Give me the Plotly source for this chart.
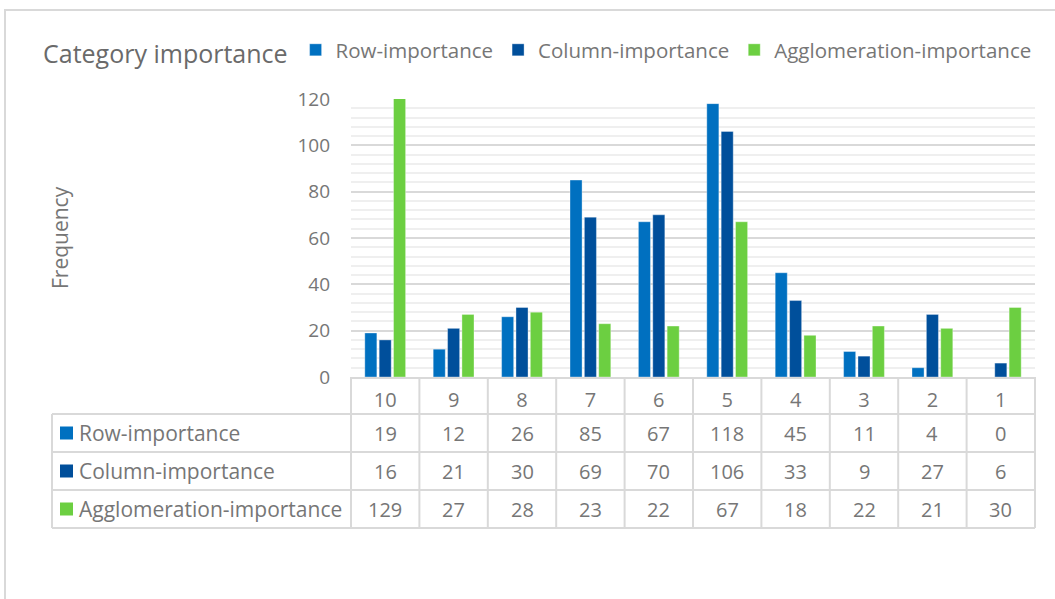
import plotly.graph_objects as go

# Data
categories = ["10", "9", "8", "7", "6", "5", "4", "3", "2", "1"]
row_importance = [19, 12, 26, 85, 67, 118, 45, 11, 4, 0]
column_importance = [16, 21, 30, 69, 70, 106, 33, 9, 27, 6]
agglomeration_importance = [129, 27, 28, 23, 22, 67, 18, 22, 21, 30]
series_names = ["Row-importance", "Column-importance", "Agglomeration-importance"]
y_ticks = [0, 20, 40, 60, 80, 100, 120]

# Styling
series_colors = ["#0070C0", "#004F9B", "#6CCF41"]
text_color = "#767676"
grid_color = "#d9d9d9"
minor_grid_color = "#efefef"
font_family = "Open Sans"

# Canvas geometry (pixels)
W, H = 1055, 599
L, R, T, B = 351, 1035, 99, 377
table_left = 52
row_edges = [414, 452, 490, 528]


def px_x(p):
    return (p - L) / (R - L)


def px_y(p):
    return (B - p) / (B - T)


fig = go.Figure()
series_values = [row_importance, column_importance, agglomeration_importance]
for name, vals, color in zip(series_names, series_values, series_colors):
    fig.add_trace(go.Bar(
        name=name, x=categories, y=vals,
        marker=dict(color=color, line=dict(color="rgba(255,255,255,0.35)", width=1)),
    ))

shapes = []
annotations = []
line_style = dict(color=grid_color, width=2)

# Outer chart frame
shapes.append(dict(type="rect", xref="paper", yref="paper",
                   x0=px_x(5), x1=px_x(1070), y0=px_y(10), y1=px_y(620),
                   line=line_style, fillcolor="rgba(0,0,0,0)", layer="below"))

# Data table: horizontal rules
for yy in row_edges:
    shapes.append(dict(type="line", xref="paper", yref="paper",
                       x0=px_x(table_left), x1=px_x(R), y0=px_y(yy), y1=px_y(yy),
                       line=line_style))
# Label column left border
shapes.append(dict(type="line", xref="paper", yref="paper",
                   x0=px_x(table_left), x1=px_x(table_left),
                   y0=px_y(row_edges[0]), y1=px_y(row_edges[-1]), line=line_style))
# Category column borders
n_cat = len(categories)
for i in range(n_cat + 1):
    xb = px_x(L + i * (R - L) / n_cat)
    shapes.append(dict(type="line", xref="paper", yref="paper",
                       x0=xb, x1=xb, y0=px_y(B), y1=px_y(row_edges[-1]), line=line_style))

# Data table: rows of values with colour keys
for r, (name, vals, color) in enumerate(zip(series_names, series_values, series_colors)):
    yc = (row_edges[r] + row_edges[r + 1]) / 2
    shapes.append(dict(type="rect", xref="paper", yref="paper",
                       x0=px_x(60), x1=px_x(73), y0=px_y(yc + 6.5), y1=px_y(yc - 6.5),
                       fillcolor=color, line=dict(width=0)))
    annotations.append(dict(text=name, xref="paper", yref="paper",
                            x=px_x(77), y=px_y(yc), xanchor="left", yanchor="middle",
                            showarrow=False, font=dict(size=21, color=text_color)))
    for i, v in enumerate(vals):
        annotations.append(dict(text=str(v), xref="x", yref="paper",
                                x=i, y=px_y(yc), xanchor="center", yanchor="middle",
                                showarrow=False, font=dict(size=20, color=text_color)))

# Y-axis title
annotations.append(dict(text="Frequency", xref="paper", yref="paper",
                        x=px_x(60), y=px_y(238), textangle=-90,
                        xanchor="center", yanchor="middle", showarrow=False,
                        font=dict(size=21, color=text_color)))

fig.update_layout(
    width=W, height=H,
    margin=dict(l=L, r=W - R, t=T, b=H - B, pad=0, autoexpand=False),
    paper_bgcolor="white", plot_bgcolor="white",
    font=dict(family=font_family, color=text_color),
    barmode="group", bargap=0.37, bargroupgap=0.16,
    showlegend=True,
    legend=dict(
        orientation="h",
        x=px_x(41), y=px_y(30), xanchor="left", yanchor="top",
        title=dict(text="Category importance", side="left",
                   font=dict(size=25, color="#6a6a6a")),
        font=dict(size=20.5, color=text_color),
        bgcolor="rgba(0,0,0,0)", valign="middle",
    ),
    xaxis=dict(type="category", showgrid=False, showline=True,
               linecolor=grid_color, linewidth=2, ticks="",
               tickfont=dict(size=20, color=text_color), ticklabelstandoff=4,
               fixedrange=True),
    yaxis=dict(range=[0, 120], tickvals=y_ticks, showline=False, zeroline=False,
               gridcolor=grid_color, gridwidth=2,
               minor=dict(dtick=4, showgrid=True, gridcolor=minor_grid_color, gridwidth=2),
               tickfont=dict(size=19, color=text_color), ticklabelstandoff=20,
               fixedrange=True),
    shapes=shapes,
    annotations=annotations,
)

fig.write_html("out.html")
